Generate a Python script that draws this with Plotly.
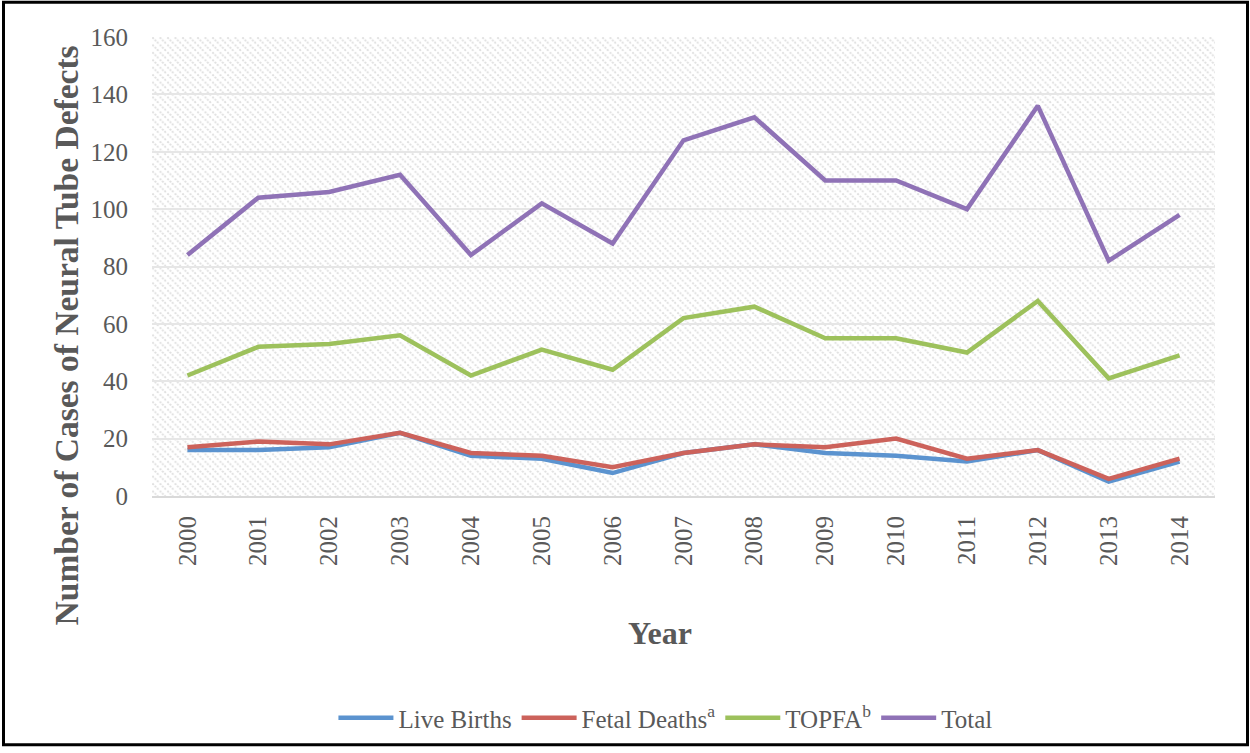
import base64
import plotly.graph_objects as go

years = ["2000", "2001", "2002", "2003", "2004", "2005", "2006", "2007",
         "2008", "2009", "2010", "2011", "2012", "2013", "2014"]
live_births = [16, 16, 17, 22, 14, 13, 8, 15, 18, 15, 14, 12, 16, 5, 12]
fetal_deaths = [17, 19, 18, 22, 15, 14, 10, 15, 18, 17, 20, 13, 16, 6, 13]
topfa = [42, 52, 53, 56, 42, 51, 44, 62, 66, 55, 55, 50, 68, 41, 49]
total = [84, 104, 106, 112, 84, 102, 88, 124, 132, 110, 110, 100, 136, 82, 98]

series_names = ["Live Births", "Fetal Deaths<sup>a</sup>", "TOPFA<sup>b</sup>", "Total"]
series_values = [live_births, fetal_deaths, topfa, total]
series_colors = ["#5B93CF", "#CC625B", "#9DC15C", "#8F72B6"]
y_ticks = [0, 20, 40, 60, 80, 100, 120, 140, 160]

W, H = 1250, 753
L, R, T, B = 152, 35, 37, 253
PW, PH = W - L - R, H - T - B

FONT = "Liberation Serif"
GREY = "#595959"

# diagonal hatch background
svg = (
    f'<svg xmlns="http://www.w3.org/2000/svg" width="{PW}" height="{PH}">'
    '<defs><pattern id="p" patternUnits="userSpaceOnUse" width="7.5" height="7.5">'
    '<path d="M-2,-2 L9.5,9.5 M-2,5.5 L2,9.5 M5.5,-2 L9.5,2" stroke="#DEDEDE" '
    'stroke-width="1.9" stroke-dasharray="2,1.3"/></pattern></defs>'
    f'<rect width="{PW}" height="{PH}" fill="white"/>'
    f'<rect width="{PW}" height="{PH}" fill="url(#p)"/></svg>'
)
svg_uri = "data:image/svg+xml;base64," + base64.b64encode(svg.encode()).decode()

fig = go.Figure()
for name, vals, col in zip(series_names, series_values, series_colors):
    fig.add_trace(go.Scatter(x=years, y=vals, mode="lines", name=name,
                             line=dict(color=col, width=4.5)))

def px_x(p):
    return (p - L) / PW

def px_y(p):
    return (H - B - p) / PH

fig.update_layout(
    width=W, height=H,
    margin=dict(l=L, r=R, t=T, b=B),
    paper_bgcolor="white",
    plot_bgcolor="rgba(0,0,0,0)",
    font=dict(family=FONT, color=GREY, size=24),
    showlegend=True,
    legend=dict(orientation="h", x=0.483, xanchor="center",
                y=px_y(724), yanchor="middle",
                font=dict(family=FONT, size=25, color=GREY),
                itemwidth=55, tracegroupgap=0),
    xaxis=dict(type="category", range=[-0.5, 14.5], showgrid=False,
               tickangle=-90, tickfont=dict(family=FONT, size=25, color=GREY),
               ticks="outside", ticklen=8, tickcolor="rgba(0,0,0,0)",
               showline=True, linecolor="#D9D9D9", linewidth=2,
               zeroline=False),
    yaxis=dict(range=[0, 160], tickvals=y_ticks, showgrid=True,
               gridcolor="#E6E6E6", gridwidth=1.5,
               tickfont=dict(family=FONT, size=25, color=GREY),
               ticks="outside", ticklen=18, tickcolor="rgba(0,0,0,0)",
               showline=False, zeroline=False),
    images=[dict(source=svg_uri, xref="paper", yref="paper", x=0, y=1,
                 sizex=1, sizey=1, sizing="stretch", layer="below",
                 xanchor="left", yanchor="top")],
    annotations=[
        dict(text="<b>Number of Cases of Neural Tube Defects</b>",
             xref="paper", yref="paper", x=px_x(66), y=px_y(338),
             xanchor="center", yanchor="middle", textangle=-90,
             showarrow=False, font=dict(family=FONT, size=33.5, color=GREY)),
        dict(text="<b>Year</b>", xref="paper", yref="paper",
             x=px_x(660), y=px_y(638), xanchor="center", yanchor="middle",
             showarrow=False, font=dict(family=FONT, size=32, color=GREY)),
    ],
    shapes=[dict(type="rect", xref="paper", yref="paper",
                 x0=px_x(3.5), x1=px_x(1247.5), y0=px_y(751), y1=px_y(2),
                 line=dict(color="black", width=3), fillcolor="rgba(0,0,0,0)",
                 layer="above")],
)

fig.write_html("out.html",
               config={"displayModeBar": False},
               post_script="document.body.style.margin='0';"
                           "document.body.style.overflow='hidden';")
